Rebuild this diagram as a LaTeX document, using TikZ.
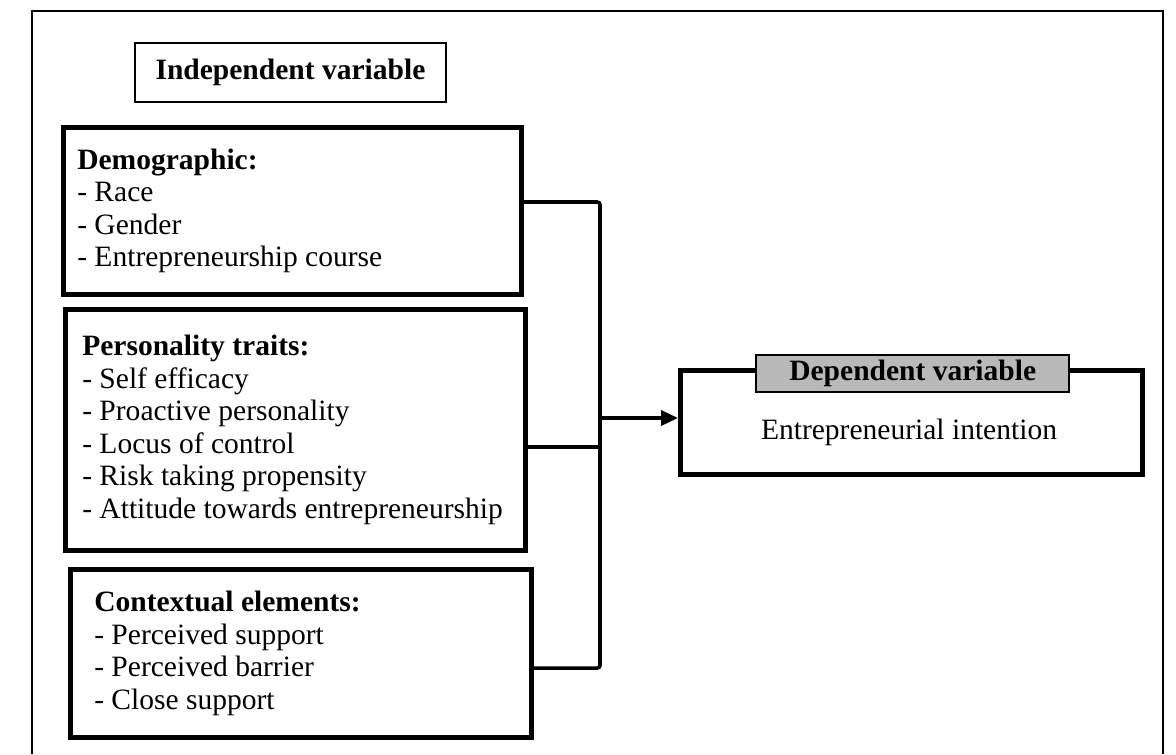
\documentclass[tikz,border=0pt]{standalone}
\usepackage{fontspec}
\setmainfont{Liberation Serif}
\usetikzlibrary{arrows.meta}
\tikzset{
    varbox/.style={draw, line width=2.6pt, rectangle, anchor=north west, align=flush left, inner ysep=0pt},
    conn/.style={line width=2pt, rounded corners=1.5pt},
}
\begin{document}
\begin{tikzpicture}[x=0.2mm, y=-0.2mm, font=\fontsize{16.8}{18.5}\selectfont]
                    \useasboundingbox (0,0) rectangle (1176,754);
                    \draw[line width=1pt] (32,754) -- (32,11) -- (1163,11) -- (1163,754);
                    \node[draw, line width=1.1pt, anchor=north west, minimum width=62.2mm, minimum height=11.8mm] (indep) at (134,42) {\textbf{Independent variable}};
                    \node[varbox, minimum height=33.4mm, inner xsep=2.8mm, text width=86mm] (demo) at (61,125)
                        {\textbf{Demographic:}\\- Race\\- Gender\\- Entrepreneurship course};
                    \node[varbox, minimum height=48.2mm, inner xsep=3.4mm, text width=85.2mm] (pers) at (63,307)
                        {\textbf{Personality traits:}\\- Self efficacy\\- Proactive personality\\- Locus of control\\- Risk taking propensity\\- Attitude towards entrepreneurship};
                    \node[varbox, minimum height=33.6mm, inner xsep=4.8mm, text width=82.6mm] (ctx) at (68,567)
                        {\textbf{Contextual elements:}\\- Perceived support\\- Perceived barrier\\- Close support};
                    \node[varbox, minimum width=92.4mm, minimum height=20.8mm] (depbox) at (678,368) {};
                    \node[draw, line width=1.4pt, fill=gray!55, anchor=north west, minimum width=62.6mm, minimum height=7.4mm, inner sep=0pt] (dephead) at (755,354) {\textbf{Dependent variable}};
                    \node (intent) at (909,432) {Entrepreneurial intention};
                    \coordinate (dj) at (600,202);
                    \coordinate (pj) at (600,447);
                    \coordinate (cj) at (600,668);
                    \coordinate (jn) at (600,418);
                    \draw[conn] (dj -| demo.east) -- (dj) -- (cj) -- (cj -| ctx.east);
                    \draw[conn] (pj -| pers.east) -- (pj);
                    \draw[line width=2pt, -{Triangle[length=3.4mm, width=3mm]}] (jn) -- (jn -| depbox.west);
                \end{tikzpicture}
\end{document}
